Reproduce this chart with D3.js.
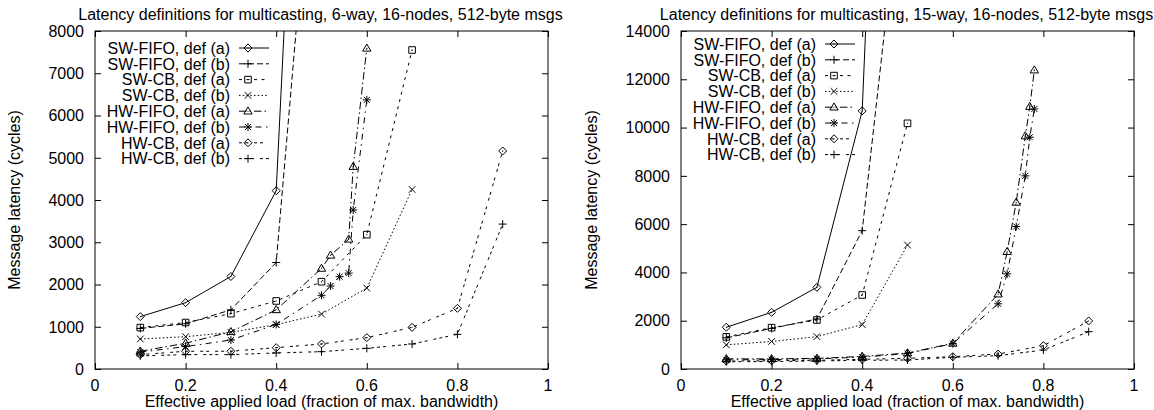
<!DOCTYPE html>
<html>
<head>
  <meta charset="utf-8">
  <script src="https://d3js.org/d3.v7.min.js"></script>
  <style>
    body { margin: 0; background: #fff; }
    svg text { font-family: "Liberation Sans", Arial, sans-serif; fill: #000; font-size: 16px; }
  </style>
</head>
<body>
<script>
// legend labels, same for both panels
var seriesNames = ["SW-FIFO, def (a)", "SW-FIFO, def (b)", "SW-CB, def (a)", "SW-CB, def (b)",
                   "HW-FIFO, def (a)", "HW-FIFO, def (b)", "HW-CB, def (a)", "HW-CB, def (b)"];
var xTicks = [0, 0.2, 0.4, 0.6, 0.8, 1];
var yTicksSix = [0, 1000, 2000, 3000, 4000, 5000, 6000, 7000, 8000];
var yTicksFifteen = [0, 2000, 4000, 6000, 8000, 10000, 12000, 14000];

// 6-way panel, [load, latency]
var sixSwFifoA = [[0.1, 1240], [0.2, 1570], [0.3, 2190], [0.4, 4220], [0.5, 26000]];
var sixSwFifoB = [[0.1, 960], [0.2, 1070], [0.3, 1400], [0.4, 2520], [0.5, 15000]];
var sixSwCbA = [[0.1, 980], [0.2, 1100], [0.3, 1310], [0.4, 1610], [0.5, 2066], [0.6, 3180], [0.7, 7550]];
var sixSwCbB = [[0.1, 710], [0.2, 765], [0.3, 868], [0.4, 1050], [0.5, 1300], [0.6, 1915], [0.7, 4250]];
var sixHwFifoA = [[0.1, 420], [0.2, 610], [0.3, 880], [0.4, 1400], [0.5, 2380], [0.52, 2690], [0.56, 3070], [0.57, 4790], [0.6, 7590]];
var sixHwFifoB = [[0.1, 400], [0.2, 530], [0.3, 686], [0.4, 1055], [0.5, 1745], [0.52, 1964], [0.54, 2185], [0.56, 2270], [0.57, 3763], [0.6, 6370]];
var sixHwCbA = [[0.1, 340], [0.2, 420], [0.3, 420], [0.4, 505], [0.5, 592], [0.6, 742], [0.7, 986], [0.8, 1436], [0.9, 5160]];
var sixHwCbB = [[0.1, 310], [0.2, 340], [0.3, 340], [0.4, 380], [0.5, 410], [0.6, 489], [0.7, 592], [0.8, 821], [0.9, 3430]];

// 15-way panel
var fifSwFifoA = [[0.1, 1730], [0.2, 2347], [0.3, 3383], [0.4, 10690], [0.5, 55000]];
var fifSwFifoB = [[0.1, 1290], [0.2, 1680], [0.3, 2071], [0.4, 5730], [0.5, 22500]];
var fifSwCbA = [[0.1, 1330], [0.2, 1712], [0.3, 2030], [0.4, 3065], [0.5, 10176]];
var fifSwCbB = [[0.1, 1000], [0.2, 1140], [0.3, 1340], [0.4, 1840], [0.5, 5136]];
var fifHwFifoA = [[0.1, 420], [0.2, 420], [0.3, 440], [0.4, 520], [0.5, 660], [0.6, 1063], [0.7, 3100], [0.72, 4860], [0.74, 6900], [0.76, 9650], [0.77, 10870], [0.78, 12380]];
var fifHwFifoB = [[0.1, 380], [0.2, 390], [0.3, 420], [0.4, 490], [0.5, 640], [0.6, 1050], [0.7, 2700], [0.72, 3940], [0.74, 5900], [0.76, 8000], [0.77, 9600], [0.78, 10770]];
var fifHwCbA = [[0.1, 330], [0.2, 340], [0.3, 360], [0.4, 400], [0.5, 443], [0.6, 510], [0.7, 621], [0.8, 966], [0.9, 1990]];
var fifHwCbB = [[0.1, 300], [0.2, 310], [0.3, 330], [0.4, 360], [0.5, 373], [0.6, 485], [0.7, 551], [0.8, 787], [0.9, 1546]];

// gnuplot-ish line types and point types
var dashes = [null, "6,3", "3,4.5", "1.5,2.25", "7.5,3,1.5,3", "6,4.5,1.5,4.5", "3,3,3,6", "3,3,3,3,3,6"];
var points = ["dia", "pls", "box", "crs", "tri", "star", "dia", "pls"];

function marker(type) {
  var s = 4;
  switch (type) {
    case "dia": return "M0," + (-s) + "L" + s + ",0L0," + s + "L" + (-s) + ",0Z M-0.5,0h1";
    case "pls": return "M" + (-s) + ",0H" + s + "M0," + (-s) + "V" + s;
    case "box": return "M-3.3,-3.3H3.3V3.3H-3.3Z M-0.5,0h1";
    case "crs": return "M-3.3,-3.3L3.3,3.3M-3.3,3.3L3.3,-3.3";
    case "tri": return "M0,-4.3L4.2,2.8H-4.2Z M-0.5,0h1";
    case "star": return "M-4,0H4M0,-4V4M-3,-3L3,3M-3,3L3,-3";
  }
}

var svg = d3.select("body").append("svg")
    .attr("width", 1154)
    .attr("height", 410);

function drawPanel(p) {
  var x = d3.scaleLinear().domain([0, 1]).range([p.left, p.right]);
  var y = d3.scaleLinear().domain([0, p.yMax]).range([369, 31]);
  var g = svg.append("g");

  g.append("text")
    .attr("x", (p.left + p.right) / 2 - 1)
    .attr("y", 20)
    .attr("text-anchor", "middle")
    .text(p.title);

  // inward ticks on all four sides
  var yAxL = d3.axisRight(y).tickValues(p.yTicks).tickSize(6).tickFormat("");
  var yAxR = d3.axisLeft(y).tickValues(p.yTicks).tickSize(6).tickFormat("");
  var xAxB = d3.axisTop(x).tickValues(xTicks).tickSize(6).tickFormat("");
  var xAxT = d3.axisBottom(x).tickValues(xTicks).tickSize(6).tickFormat("");
  g.append("g").attr("transform", "translate(" + p.left + ",0)").call(yAxL);
  g.append("g").attr("transform", "translate(" + p.right + ",0)").call(yAxR);
  g.append("g").attr("transform", "translate(0,369)").call(xAxB);
  g.append("g").attr("transform", "translate(0,31)").call(xAxT);
  g.selectAll(".domain").remove();
  g.selectAll(".tick line").attr("stroke", "#000");

  g.selectAll(".ylab").data(p.yTicks).enter().append("text")
    .attr("x", p.left - 11)
    .attr("y", function (d) { return y(d); })
    .attr("dy", "0.36em")
    .attr("text-anchor", "end")
    .text(function (d) { return d; });
  g.selectAll(".xlab").data(xTicks).enter().append("text")
    .attr("x", function (d) { return x(d); })
    .attr("y", 391)
    .attr("text-anchor", "middle")
    .text(function (d) { return d; });

  g.append("text")
    .attr("x", (p.left + p.right) / 2)
    .attr("y", 407)
    .attr("text-anchor", "middle")
    .text("Effective applied load (fraction of max. bandwidth)");
  g.append("text")
    .attr("transform", "translate(" + p.ylabX + ",200) rotate(-90)")
    .attr("text-anchor", "middle")
    .text("Message latency (cycles)");

  var clipId = "clip" + p.left;
  svg.append("clipPath").attr("id", clipId).append("rect")
    .attr("x", p.left).attr("y", 31)
    .attr("width", p.right - p.left).attr("height", 338);

  var line = d3.line().x(function (d) { return x(d[0]); }).y(function (d) { return y(d[1]); });
  var plot = g.append("g").attr("clip-path", "url(#" + clipId + ")");

  p.series.forEach(function (s, i) {
    plot.append("path")
      .attr("d", line(s))
      .attr("fill", "none")
      .attr("stroke", "#000")
      .attr("stroke-width", 1)
      .attr("stroke-dasharray", dashes[i]);
    plot.selectAll(".pt" + i).data(s.filter(function (d) { return d[1] <= p.yMax; }))
      .enter().append("path")
      .attr("transform", function (d) { return "translate(" + x(d[0]) + "," + y(d[1]) + ")"; })
      .attr("d", marker(points[i]))
      .attr("fill", "none")
      .attr("stroke", "#000")
      .attr("stroke-width", 1);
  });

  // legend
  seriesNames.forEach(function (name, i) {
    var ly = p.legY + i * 15.8;
    g.append("text")
      .attr("x", p.legX)
      .attr("y", ly)
      .attr("dy", "0.36em")
      .attr("text-anchor", "end")
      .text(name);
    g.append("line")
      .attr("x1", p.legX + 9).attr("x2", p.legX + 39)
      .attr("y1", ly).attr("y2", ly)
      .attr("stroke", "#000")
      .attr("stroke-dasharray", dashes[i]);
    g.append("path")
      .attr("transform", "translate(" + (p.legX + 18) + "," + ly + ")")
      .attr("d", marker(points[i]))
      .attr("fill", "none")
      .attr("stroke", "#000");
  });

  g.append("rect")
    .attr("x", p.left).attr("y", 31)
    .attr("width", p.right - p.left).attr("height", 338)
    .attr("fill", "none")
    .attr("stroke", "#000")
    .attr("stroke-width", 1);
}

drawPanel({
  title: "Latency definitions for multicasting, 6-way, 16-nodes, 512-byte msgs",
  left: 95, right: 548, yMax: 8000, yTicks: yTicksSix, ylabX: 20,
  legX: 230, legY: 48,
  series: [sixSwFifoA, sixSwFifoB, sixSwCbA, sixSwCbB, sixHwFifoA, sixHwFifoB, sixHwCbA, sixHwCbB]
});
drawPanel({
  title: "Latency definitions for multicasting, 15-way, 16-nodes, 512-byte msgs",
  left: 681, right: 1134, yMax: 14000, yTicks: yTicksFifteen, ylabX: 597,
  legX: 816, legY: 44,
  series: [fifSwFifoA, fifSwFifoB, fifSwCbA, fifSwCbB, fifHwFifoA, fifHwFifoB, fifHwCbA, fifHwCbB]
});
</script>
</body>
</html>
